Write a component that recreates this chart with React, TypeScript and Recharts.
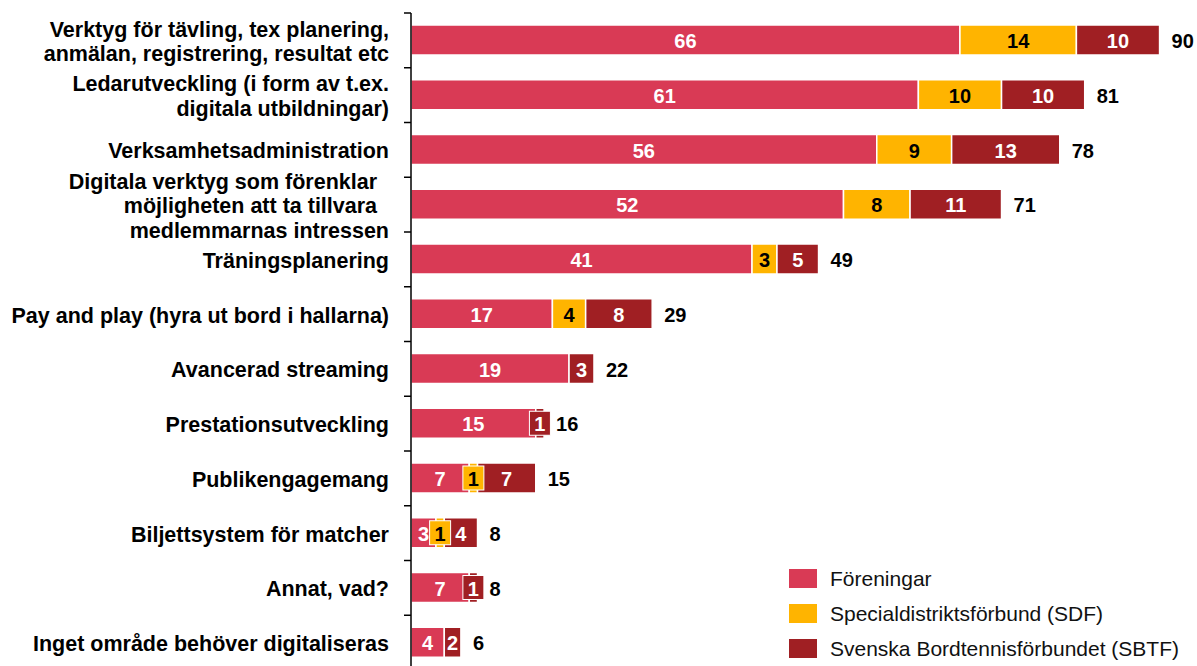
import React from "react";
import { BarChart, Bar, XAxis, YAxis, LabelList } from "recharts";

const categories = [
  "Verktyg för tävling, tex planering,\nanmälan, registrering, resultat etc",
  "Ledarutveckling (i form av t.ex.\ndigitala utbildningar)",
  "Verksamhetsadministration",
  "Digitala verktyg som förenklar  \nmöjligheten att ta tillvara  \nmedlemmarnas intressen",
  "Träningsplanering",
  "Pay and play (hyra ut bord i hallarna)",
  "Avancerad streaming",
  "Prestationsutveckling",
  "Publikengagemang",
  "Biljettsystem för matcher",
  "Annat, vad?",
  "Inget område behöver digitaliseras",
];

const foreningar = [66, 61, 56, 52, 41, 17, 19, 15, 7, 3, 7, 4];
const sdf = [14, 10, 9, 8, 3, 4, 0, 0, 1, 1, 0, 0];
const sbtf = [10, 10, 13, 11, 5, 8, 3, 1, 7, 4, 1, 2];

const seriesNames = ["Föreningar", "Specialdistriktsförbund (SDF)", "Svenska Bordtennisförbundet (SBTF)"];
const colors = ["#D93A55", "#FFB400", "#A01F23"];
const labelColors = ["#ffffff", "#000000", "#ffffff"];

const totals = categories.map((_, i) => foreningar[i] + sdf[i] + sbtf[i]);

const data = categories.map((name, i) => ({
  name,
  foreningar: foreningar[i],
  sdf: sdf[i],
  sbtf: sbtf[i],
}));

const FONT = "'Liberation Sans', Arial, sans-serif";
const CHART_W = 1197;
const CHART_H = 680;
const MARGIN = { top: 13, right: 0, bottom: 10, left: 0 };
const BAND = (CHART_H - MARGIN.top - MARGIN.bottom) / categories.length;

function CategoryTick(props: any) {
  const { x, y, payload } = props;
  const lines = String(payload.value).split("\n");
  const lh = 24.5;
  const start = y + 1.5 - ((lines.length - 1) * lh) / 2;
  return (
    <g>
      <line x1={x - 7} x2={x} y1={y - BAND / 2} y2={y - BAND / 2} stroke="#000" strokeWidth={1.5} />
      <text
        x={x - 22}
        y={start}
        textAnchor="end"
        dominantBaseline="central"
        fontFamily={FONT}
        fontWeight="bold"
        fontSize={21.5}
        fill="#000"
        style={{ whiteSpace: "pre" }}
      >
        {lines.map((l, i) => (
          <tspan key={i} x={x - 22} y={start + i * lh} style={{ whiteSpace: "pre" }}>
            {l}
          </tspan>
        ))}
      </text>
    </g>
  );
}

function makeSegmentLabel(si: number) {
  return (props: any) => {
    const { x, y, width, height, value } = props;
    if (!value) return null;
    const cx = x + width / 2;
    const cy = y + height / 2;
    const tw = String(value).length * 11 + 2;
    const narrow = width < tw;
    return (
      <g>
        {narrow && (
          <rect
            x={cx - (tw + 8) / 2}
            y={y + 3}
            width={tw + 8}
            height={height - 6}
            fill={colors[si]}
            stroke="#fff"
            strokeWidth={1}
          />
        )}
        <text
          x={cx}
          y={cy + 1}
          textAnchor="middle"
          dominantBaseline="central"
          fontFamily={FONT}
          fontWeight="bold"
          fontSize={20}
          fill={labelColors[si]}
        >
          {value}
        </text>
      </g>
    );
  };
}

function TotalLabel(props: any) {
  const { x, y, width, height, index } = props;
  return (
    <text
      x={x + width + 12}
      y={y + height / 2 + 1}
      textAnchor="start"
      dominantBaseline="central"
      fontFamily={FONT}
      fontWeight="bold"
      fontSize={20}
      fill="#000"
    >
      {totals[index]}
    </text>
  );
}

export default function App() {
  return (
    <div
      style={{
        position: "absolute",
        left: 0,
        top: 0,
        width: CHART_W,
        height: 666,
        overflow: "hidden",
        background: "#fff",
      }}
    >
      <BarChart
        width={CHART_W}
        height={CHART_H}
        data={data}
        layout="vertical"
        margin={MARGIN}
        barSize={30}
      >
        <XAxis type="number" domain={[0, 94.5]} hide />
        <YAxis
          type="category"
          dataKey="name"
          width={411}
          tickLine={false}
          tickSize={0}
          tickMargin={0}
          axisLine={{ stroke: "#000", strokeWidth: 1.5 }}
          tick={<CategoryTick />}
          interval={0}
        />
        <Bar dataKey="foreningar" stackId="a" fill={colors[0]} stroke="#fff" strokeWidth={1.5} isAnimationActive={false}>
          <LabelList dataKey="foreningar" content={makeSegmentLabel(0)} />
        </Bar>
        <Bar dataKey="sdf" stackId="a" fill={colors[1]} stroke="#fff" strokeWidth={1.5} isAnimationActive={false}>
          <LabelList dataKey="sdf" content={makeSegmentLabel(1)} />
        </Bar>
        <Bar dataKey="sbtf" stackId="a" fill={colors[2]} stroke="#fff" strokeWidth={1.5} isAnimationActive={false}>
          <LabelList dataKey="sbtf" content={makeSegmentLabel(2)} />
          <LabelList dataKey="sbtf" content={TotalLabel} />
        </Bar>
      </BarChart>
      <div style={{ position: "absolute", left: 789, top: 561, fontFamily: FONT }}>
        {seriesNames.map((n, i) => (
          <div key={n} style={{ display: "flex", alignItems: "center", height: 35 }}>
            <div style={{ width: 28, height: 19, background: colors[i], marginRight: 13 }} />
            <span style={{ fontSize: 21, color: "#111" }}>{n}</span>
          </div>
        ))}
      </div>
    </div>
  );
}
